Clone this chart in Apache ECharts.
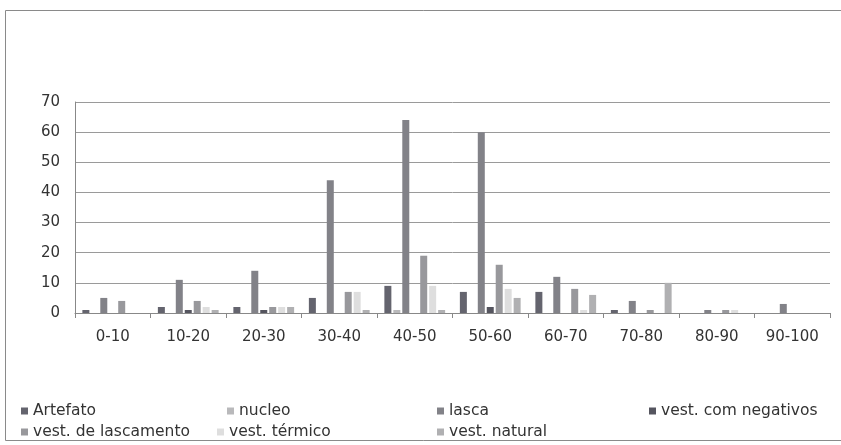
<!DOCTYPE html>
<html><head><meta charset="utf-8">
<script src="https://cdn.jsdelivr.net/npm/echarts@6/dist/echarts.min.js"></script>
<style>html,body{margin:0;padding:0;background:#fff}#c{width:841px;height:445px}</style>
</head><body><div id="c"></div>
<script>
const categories = ['0-10','10-20','20-30','30-40','40-50','50-60','60-70','70-80','80-90','90-100'];
const seriesNames = ['Artefato','nucleo','lasca','vest. com negativos','vest. de lascamento','vest. térmico','vest. natural'];
const artefato   = [1, 2, 2, 5, 9, 7, 7, 1, 0, 0];
const nucleo     = [0, 0, 0, 0, 1, 0, 0, 0, 0, 0];
const lasca      = [5, 11, 14, 44, 64, 60, 12, 4, 1, 3];
const negativos  = [0, 1, 1, 0, 0, 2, 0, 0, 0, 0];
const lascamento = [4, 4, 2, 7, 19, 16, 8, 1, 1, 0];
const termico    = [0, 2, 2, 7, 9, 8, 1, 0, 1, 0];
const natural    = [0, 1, 2, 1, 1, 5, 6, 10, 0, 0];
const yTicks = [0,10,20,30,40,50,60,70];

const values = [artefato, nucleo, lasca, negativos, lascamento, termico, natural];
const colors = ['#64646e','#b9b9bb','#828288','#55555f','#98989c','#dedede','#b0b0b2'];

const legendPos = [
  {left: 16, top: 398}, {left: 222, top: 398}, {left: 432, top: 398}, {left: 644, top: 398},
  {left: 16, top: 419}, {left: 212, top: 419}, {left: 432, top: 419}
];

const chart = echarts.init(document.getElementById('c'), null, {renderer:'canvas'});
chart.setOption({
  backgroundColor: '#ffffff',
  animation: false,
  graphic: [{type:'rect', shape:{x:5.5,y:10.5,width:840,height:430}, style:{fill:'none', stroke:'#8a8a8a', lineWidth:1}, silent:true}],
  grid: {left: 75, right: 11, top: 102, bottom: 132},
  legend: seriesNames.map((n,i)=>({
    data:[n], left: legendPos[i].left, top: legendPos[i].top,
    itemWidth: 7, itemHeight: 7, itemGap: 4, icon: 'rect',
    textStyle:{fontFamily:'DejaVu Sans, sans-serif', fontSize: 15.5, color:'#333'}
  })),
  xAxis: {
    type:'category', data: categories,
    axisLine:{show:true, lineStyle:{color:'#888', width:1}},
    axisTick:{show:true, alignWithLabel:false, length:5, lineStyle:{color:'#888'}},
    axisLabel:{fontFamily:'DejaVu Sans, sans-serif', fontSize:15, color:'#333', margin:17, interval:0}
  },
  yAxis: {
    type:'value', min:0, max:70, interval:10,
    axisLine:{show:true, lineStyle:{color:'#888'}},
    axisTick:{show:false},
    splitLine:{lineStyle:{color:'#9a9a9a', width:1}},
    axisLabel:{fontFamily:'DejaVu Sans, sans-serif', fontSize:15, color:'#333', margin:15,
      formatter: v => yTicks.includes(v) ? String(v) : ''}
  },
  series: seriesNames.map((n,i)=>({
    name:n, type:'bar', data: values[i], barWidth:7, barGap:'28%',
    itemStyle:{color: colors[i]}
  }))
});
</script></body></html>
